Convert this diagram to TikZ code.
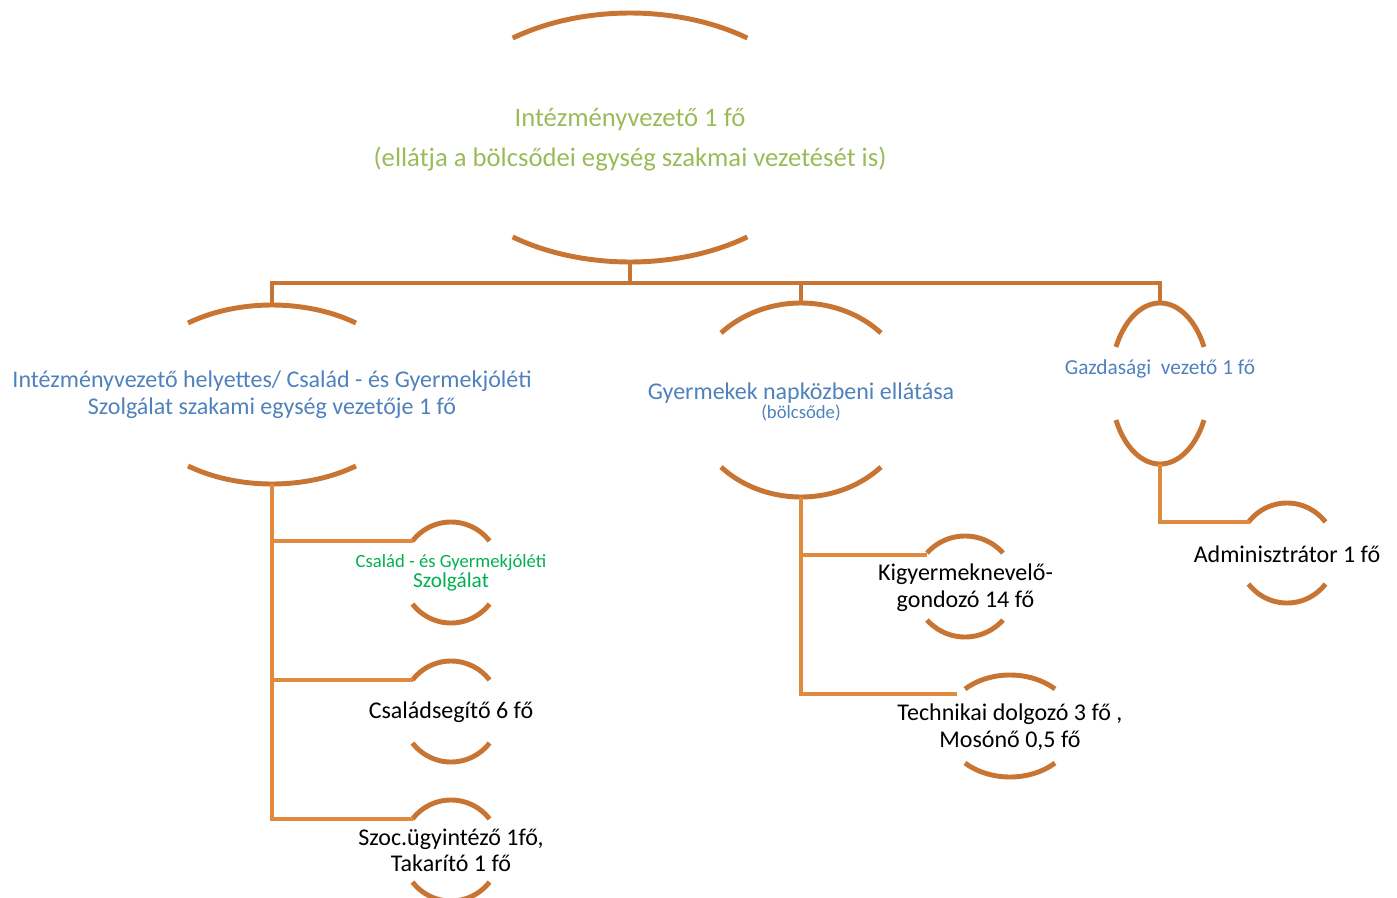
\documentclass[tikz,border=0pt]{standalone}
\usepackage{fontspec}
\setmainfont{Carlito}
\definecolor{arcc}{HTML}{C87533}
\definecolor{linec}{HTML}{E08A40}
\definecolor{tgreen}{HTML}{9BBB59}
\definecolor{tblue}{HTML}{4F81BD}
\definecolor{sgreen}{HTML}{00B050}
\newcommand\fsz[2]{\fontsize{#1}{#2}\selectfont}
\newcommand\ellarcs[5]{%
  \pgfmathsetmacro\eaA{180-#5}\pgfmathsetmacro\eaB{#5}%
  \pgfmathsetmacro\eaC{180+#5}\pgfmathsetmacro\eaD{360-#5}%
  \draw[arcline] plot[domain=\eaA:\eaB, samples=50] ({#1+#3*cos(\x)},{#2-#4*sin(\x)});
  \draw[arcline] plot[domain=\eaC:\eaD, samples=50] ({#1+#3*cos(\x)},{#2-#4*sin(\x)});
}
\begin{document}
\begin{tikzpicture}[x=0.75pt,y=-0.75pt,
  arcline/.style={draw=arcc,line width=3.7pt},
  upconn/.style={draw=arcc,line width=3.7pt},
  lowconn/.style={draw=linec,line width=3.7pt},
  lbl/.style={align=center,inner sep=0pt}]
\useasboundingbox (0,0) rectangle (1397,897);
% ellipse arcs
\ellarcs{630}{137.5}{195}{124.5}{53}
\ellarcs{272}{394.5}{139.5}{89.5}{53}
\ellarcs{801}{400}{110.6}{97}{43.7}
\ellarcs{1160}{383.5}{49.4}{80.5}{27}
\ellarcs{1287}{553}{49}{50}{38.3}
\ellarcs{451}{572.5}{49.3}{50.5}{38.6}
\ellarcs{451}{711.5}{49.3}{50.5}{38.6}
\ellarcs{451}{850.5}{49.3}{50.5}{38.6}
\ellarcs{965}{586.5}{50.7}{50.5}{41.5}
\ellarcs{1010}{726}{65.4}{51}{46.5}
% texts
\node[lbl,text=tgreen,font=\fsz{20}{30}] (top) at (630,140) {Intézményvezető 1 fő\\(ellátja a bölcsődei egység szakmai vezetését is)};
\node[lbl,text=tblue,font=\fsz{18}{20.25}] (helyettes) at (272,394.5) {Intézményvezető helyettes/ Család - és Gyermekjóléti\\Szolgálat szakami egység vezetője 1 fő};
\node[lbl,text=tblue] (bolcs) at (801,402) {\fsz{18}{18}Gyermekek napközbeni ellátása\\\fsz{14}{19.5}(bölcsőde)};
\node[lbl,text=tblue,font=\fsz{16}{20}] (gazd) at (1160,369) {Gazdasági\ \ vezető 1 fő};
\node[lbl,font=\fsz{18}{20}] (admin) at (1287,554) {Adminisztrátor 1 fő};
\node[lbl,text=sgreen] (csgy) at (451,573) {\fsz{14}{16.5}Család - és Gyermekjóléti\\\fsz{16}{18}Szolgálat};
\node[lbl,font=\fsz{18}{20}] (csalad) at (451,712.5) {Családsegítő 6 fő};
\node[lbl,font=\fsz{18}{19.5}] (szoc) at (451,850.5) {Szoc.ügyintéző 1fő,\\Takarító 1 fő};
\node[lbl,font=\fsz{18}{20.25}] (kigy) at (965.5,587.5) {Kigyermeknevelő-\\gondozó 14 fő};
\node[lbl,font=\fsz{18}{20.25}] (techn) at (1010,727.5) {Technikai dolgozó 3 fő ,\\Mosónő 0,5 fő};
% anchor coordinates on the arcs
\coordinate (topB) at (630,262);
\coordinate (bar) at (630,283);
\coordinate (helyT) at (272,305);
\coordinate (helyB) at (272,484);
\coordinate (bolcsT) at (801,303);
\coordinate (bolcsB) at (801,497);
\coordinate (gazdT) at (1160,303);
\coordinate (gazdB) at (1160,464);
\coordinate (adminL) at (1250,522);
\coordinate (csgyL) at (413,541);
\coordinate (csaladL) at (413,680);
\coordinate (szocL) at (413,819);
\coordinate (kigyL) at (927,555);
\coordinate (technL) at (957,694);
% connectors
\draw[upconn] (topB) -- (bar);
\draw[upconn,line join=miter] (helyT) -- (helyT |- bar) -- (gazdT |- bar) -- (gazdT);
\draw[upconn] (bolcsT) -- (bolcsT |- bar);
\draw[lowconn] (helyB) |- (csgyL);
\draw[lowconn] (helyB) |- (csaladL);
\draw[lowconn] (helyB) |- (szocL);
\draw[lowconn] (bolcsB) |- (kigyL);
\draw[lowconn] (bolcsB) |- (technL);
\draw[lowconn] (gazdB) |- (adminL);
\end{tikzpicture}
\end{document}
